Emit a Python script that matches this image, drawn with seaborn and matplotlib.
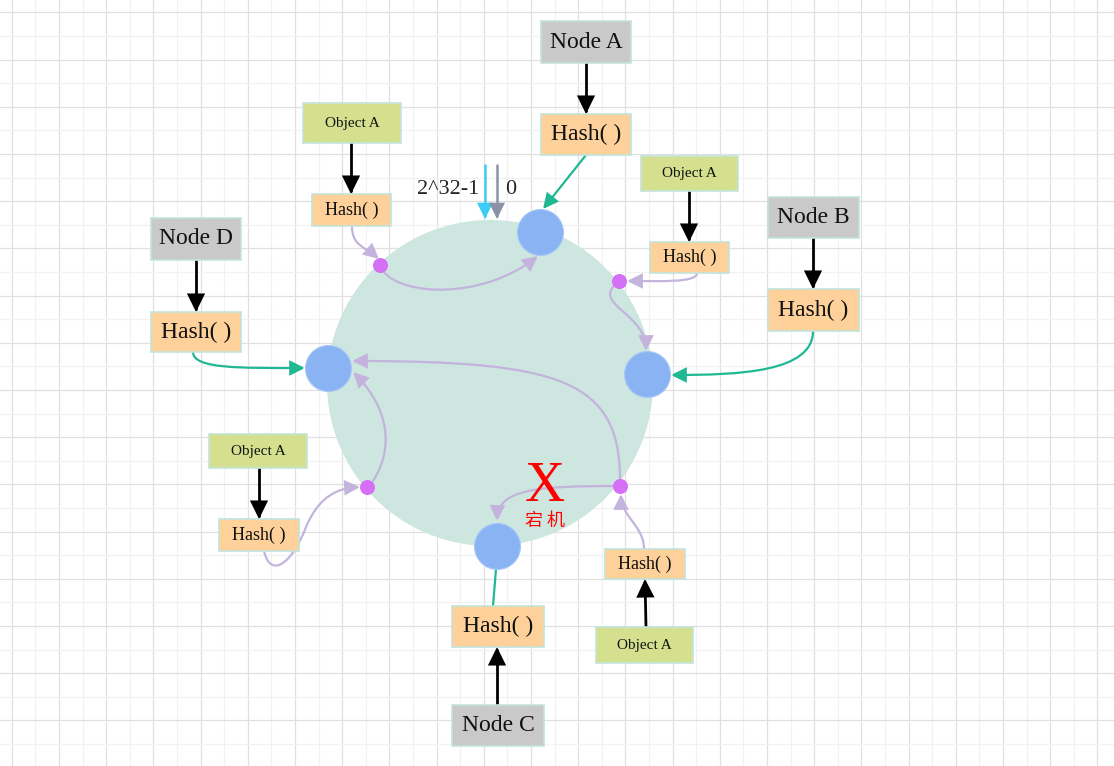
import numpy as np
import pandas as pd
import matplotlib
matplotlib.use("Agg")
import matplotlib.pyplot as plt
import seaborn as sns
from matplotlib.patches import Rectangle, Circle, FancyArrowPatch
from matplotlib.path import Path

# ---- text content of the diagram ----
node_names = ["Node A", "Node B", "Node C", "Node D"]
hash_text = "Hash( )"
object_text = "Object A"
ring_start_labels = ["2^32-1", "0"]
down_text = "宕 机"

# ---- layout, pixel space (y grows downwards) ----
W, H = 1114, 766
ring_center = (490, 383)
ring_radius = 163

# server nodes on the ring and hashed object points
ring_nodes = pd.DataFrame({"x": [540, 647, 497, 328], "y": [232, 374, 546, 368]})
obj_points = pd.DataFrame({"x": [380, 619, 367, 620], "y": [265, 281, 487, 486]})

# boxes: (cx, cy, w, h)
node_boxes = [(586, 42, 90, 42), (813.5, 217.5, 91, 41), (498, 725.5, 92, 41), (196, 239, 90, 42)]
node_hash_boxes = [(586, 134.5, 90, 41), (813.5, 310, 91, 42), (498, 626.5, 92, 41), (196, 332, 90, 40)]
obj_boxes = [(352, 123, 98, 40), (689.5, 173.5, 97, 35), (258, 451, 98, 34), (644.5, 645, 97, 36)]
obj_hash_boxes = [(351.5, 210, 79, 32), (689.5, 257.5, 79, 31), (259, 535, 80, 32), (645, 564, 80, 30)]

grey = "#c9c9c9"
peach = "#fed19b"
olive = "#d4e08e"
edge = "#c3e4da"
teal = "#1fb893"
lilac = "#c3b3dd"
dot_col = "#d56ff5"
blue = "#89b3f3"
mint = "#cde6df"

sns.set_theme(style="white")
plt.rcParams["font.family"] = ["Liberation Serif", "Noto Sans CJK SC", "DejaVu Sans"]

fig = plt.figure(figsize=(W / 100, H / 100), dpi=100)
ax = fig.add_axes([0, 0, 1, 1])

# background grid paper
step = 23.6
xs = 11.7 + step * np.arange(48)
ys = 12.3 + step * np.arange(33)
for i, x in enumerate(xs):
    ax.axvline(x, color="#e0e0e0" if i % 2 == 0 else "#f2f2f2", lw=0.9, zorder=0)
for i, y in enumerate(ys):
    ax.axhline(y, color="#e0e0e0" if i % 2 == 0 else "#f2f2f2", lw=0.9, zorder=0)

# hash ring
ax.add_patch(Circle(ring_center, ring_radius, color=mint, lw=0, zorder=1))


def curve(points, color, head=True, lw=1.6, scale=1.0, z=2):
    pts = np.array(points, dtype=float)
    codes = [Path.MOVETO] + [Path.CURVE4] * (len(pts) - 1)
    if len(pts) == 2:
        codes = [Path.MOVETO, Path.LINETO]
    style = "-|>,head_length=%.2f,head_width=%.2f" % (0.55 * scale, 0.27 * scale) if head else "-"
    ax.add_patch(FancyArrowPatch(path=Path(pts, codes), arrowstyle=style, mutation_scale=16,
                                 color=color, lw=lw, zorder=z, joinstyle="miter"))


# lilac paths of objects travelling clockwise to their server
curve([(352, 226), (352, 246), (364, 246), (379, 259)], lilac)
curve([(383, 271), (402, 296), (482, 300), (538, 256)], lilac)
curve([(697, 273), (697, 283), (660, 281), (627, 281)], lilac)
curve([(613, 287), (598, 305), (646, 316), (646, 351)], lilac)
curve([(264, 551), (270, 578), (291, 566), (306, 527), (320, 494), (340, 488), (360, 487)], lilac)
curve([(373, 481), (393, 450), (391, 410), (353, 372)], lilac)
curve([(644, 549), (644, 526), (621, 516), (621, 494)], lilac)
curve([(620, 480), (620, 380), (560, 361), (352, 361)], lilac)
curve([(613, 486), (535, 486), (498, 490), (497, 521)], lilac)

# teal links from node hashes onto the ring
curve([(586, 155), (543, 209)], teal)
curve([(813, 331), (813, 372), (740, 375), (671, 375)], teal)
curve([(193, 352), (193, 369), (240, 368), (305, 368)], teal)
curve([(493, 606), (496, 569)], teal, head=False)

# black arrows between boxes
black_links = [((586, 63), (586, 114)), ((689, 191), (689, 242)), ((813, 238), (813, 289)),
               ((351, 143), (351, 194)), ((196, 260), (196, 312)), ((259, 468), (259, 519)),
               ((497, 705), (497, 647)), ((646, 627), (645, 579))]
for a, b in black_links:
    curve([a, b], "black", lw=2.0, scale=1.15, z=3)

# ring start marker
curve([(485, 165), (485, 219)], "#3ccdf5", lw=1.8)
curve([(497, 165), (497, 219)], "#8a93a6", lw=1.8)
ax.text(448, 190, ring_start_labels[0], fontsize=16, ha="center", va="center", zorder=5)
ax.text(511, 190, ring_start_labels[1], fontsize=16, ha="center", va="center", zorder=5)

# servers and object points
sns.scatterplot(data=ring_nodes, x="x", y="y", s=(46 * 0.72) ** 2, color=blue,
                edgecolor="#a9c8f6", linewidth=0.8, ax=ax, zorder=4, legend=False)
sns.scatterplot(data=obj_points, x="x", y="y", s=(15 * 0.72) ** 2, color=dot_col,
                edgecolor=dot_col, linewidth=0, ax=ax, zorder=4, legend=False)
ax.set_xlim(0, W)
ax.set_ylim(H, 0)
ax.axis("off")


def box(spec, text, fc, size):
    cx, cy, w, h = spec
    ax.add_patch(Rectangle((cx - w / 2, cy - h / 2), w, h, facecolor=fc, edgecolor=edge,
                           lw=1.2, zorder=4))
    ax.text(cx, cy, text, fontsize=size, ha="center", va="center", color="#111111", zorder=5)


for spec, name in zip(node_boxes, node_names):
    box(spec, name, grey, 17)
for spec in node_hash_boxes:
    box(spec, hash_text, peach, 17)
for spec in obj_boxes:
    box(spec, object_text, olive, 11)
for spec in obj_hash_boxes:
    box(spec, hash_text, peach, 13)

# crashed server marker
ax.text(545, 487, "X", fontsize=40, color="#ff0000", ha="center", va="center",
        family=["Liberation Serif"], zorder=5)
ax.text(545, 521, down_text, fontsize=13, color="#ff0000", ha="center", va="center",
        family=["Noto Sans CJK SC"], zorder=5)

fig.savefig("out.png", dpi=100)
